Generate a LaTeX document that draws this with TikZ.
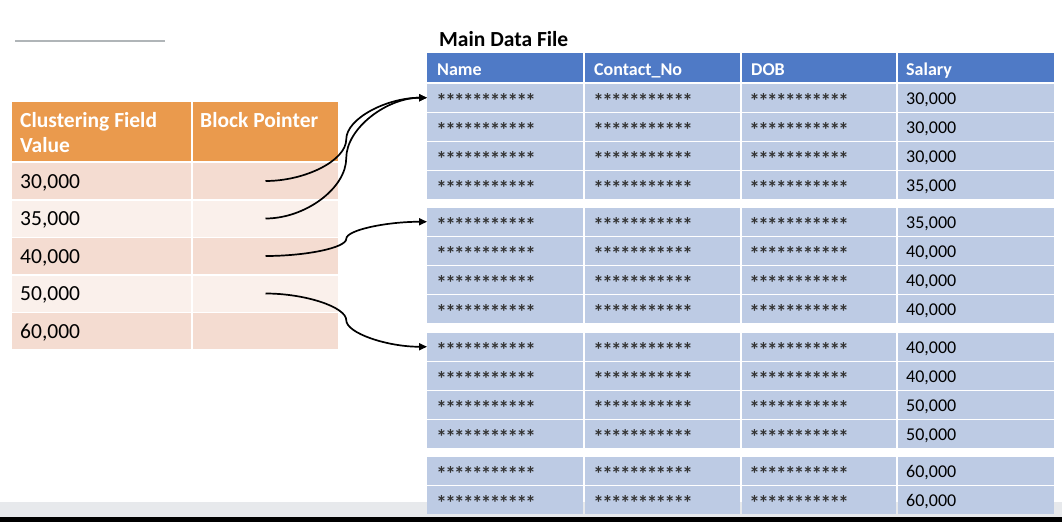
\documentclass[tikz,border=0pt]{standalone}
\usepackage{fontspec}
\setmainfont{Carlito}
\usetikzlibrary{positioning,calc,arrows.meta}
\definecolor{hdrorange}{HTML}{EA9A4D}
\definecolor{rowdark}{HTML}{F4DCD1}
\definecolor{rowlight}{HTML}{FAF0EB}
\definecolor{hdrblue}{HTML}{4F7AC6}
\definecolor{rowblue}{HTML}{BDCBE4}
\definecolor{stripgray}{HTML}{E7E9EC}
\definecolor{rulegray}{HTML}{B0B5B8}
\newcommand\starrow{\foreach \k in {1,...,11}{\makebox[8.9pt][c]{*}}}

\begin{document}
\begin{tikzpicture}[x=1pt,y=-1pt,
  box/.style={anchor=north west,inner sep=0pt,outer sep=0pt},
  lbl/.style={anchor=base west,inner sep=0pt,font=\fontsize{21.5}{25}\selectfont},
  hdrlbl/.style={lbl,font=\fontsize{21.5}{25}\selectfont\bfseries,text=white},
  datlbl/.style={anchor=base west,inner sep=0pt,font=\fontsize{18}{21}\selectfont},
  starlbl/.style={anchor=base west,inner sep=0pt,font=\fontsize{21}{21}\selectfont\bfseries,text=black!80},
  colhdr/.style={datlbl,font=\fontsize{18}{21}\selectfont\bfseries,text=white},
  ptr/.style={-{Triangle[length=8pt,width=7pt]},line width=1.7pt}]
% page, screen strip at the bottom
\fill[white] (0,0) rectangle (1062,522);
\fill[stripgray] (0,502) rectangle (1062,517);
\fill[black] (0,517) rectangle (1062,522);
\draw[rulegray,line width=1.8pt] (15,41) -- (165,41);

% index table
\node[box,fill=hdrorange,minimum width=179pt,minimum height=59pt] (hv) at (12,102) {};
\node[box,fill=hdrorange,minimum width=145pt,minimum height=59pt] (hb) at (193,102) {};
\node[hdrlbl] at (20,127) {Clustering Field};
\node[hdrlbl] at (20,152) {Value};
\node[hdrlbl] at (200,127) {Block Pointer};
\foreach \v/\c [count=\i] in {30/rowdark,35/rowlight,40/rowdark,50/rowlight,60/rowdark} {
  \node[box,fill=\c,minimum width=179pt,minimum height=36pt] (cv\i) at (12,{163+37.5*(\i-1)}) {};
  \node[box,fill=\c,minimum width=145pt,minimum height=36pt] (bp\i) at (193,{163+37.5*(\i-1)}) {};
  \node[lbl] at (20,{188+37.5*(\i-1)}) {\v,000};
}

% main data file
\node[anchor=base west,inner sep=0pt,font=\fontsize{21.5}{25}\selectfont\bfseries] (title) at (439,46.5) {Main Data File};
\node[box,fill=hdrblue,minimum width=156pt,minimum height=29pt] (hn) at (427,53) {};
\node[box,fill=hdrblue,minimum width=155pt,minimum height=29pt] (hc) at (585,53) {};
\node[box,fill=hdrblue,minimum width=154pt,minimum height=29pt] (hd) at (742,53) {};
\node[box,fill=hdrblue,minimum width=156pt,minimum height=29pt] (hs) at (898,53) {};
\node[colhdr] at (437,75) {Name};
\node[colhdr] at (594,75) {Contact\_No};
\node[colhdr] at (751,75) {DOB};
\node[colhdr] at (906,75) {Salary};
\foreach \y/\s [count=\i] in {84/30,113/30,142/30,171/35,208/35,237/40,266/40,295/40,
                               333/40,362/40,391/50,420/50,457/60,486/60} {
  \node[box,fill=rowblue,minimum width=156pt,minimum height=27.5pt] (n\i) at (427,\y) {};
  \node[box,fill=rowblue,minimum width=155pt,minimum height=27.5pt] (c\i) at (585,\y) {};
  \node[box,fill=rowblue,minimum width=154pt,minimum height=27.5pt] (d\i) at (742,\y) {};
  \node[box,fill=rowblue,minimum width=156pt,minimum height=27.5pt] (s\i) at (898,\y) {};
  \node[starlbl] at (437,\y+24) {\starrow};
  \node[starlbl] at (594,\y+24) {\starrow};
  \node[starlbl] at (750,\y+24) {\starrow};
  \node[datlbl] at (906,\y+20.5) {\s,000};
}

% block pointers
\foreach \a/\b/\q/\r in {bp1/n1/21/-21,bp2/n1/30/-30,bp3/n5/9/-9,bp4/n9/-13/13} {
  \draw[ptr] (\a.center) .. controls +(40,0) and +(0,\q) .. ($(\a.center)!0.5!(\b.west)$)
    .. controls +(0,\r) and +(-40,0) .. (\b.west);
}
\end{tikzpicture}
\end{document}
